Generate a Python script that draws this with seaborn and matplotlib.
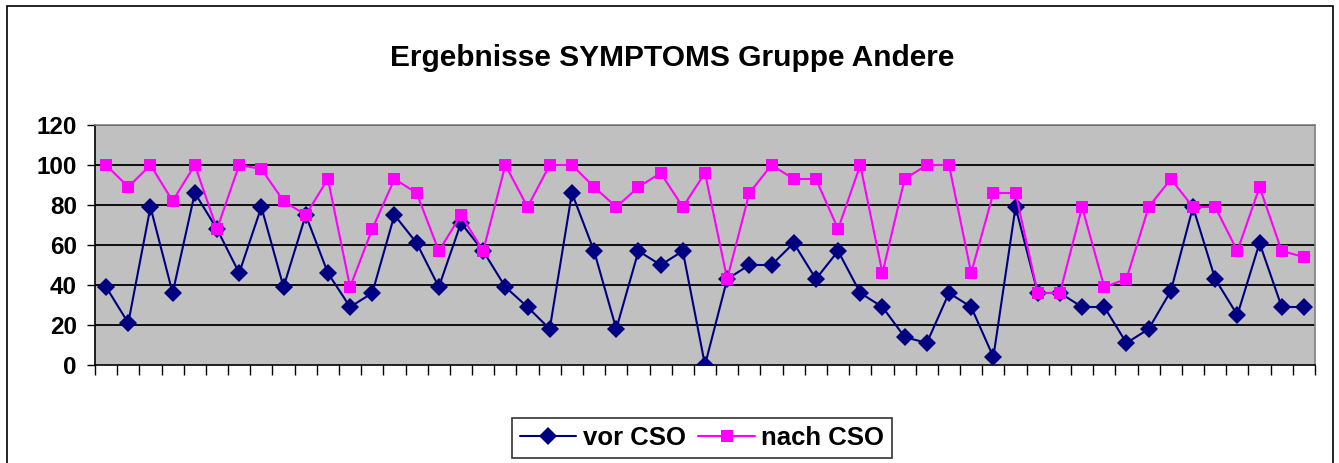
import numpy as np
import pandas as pd
import matplotlib
matplotlib.use("Agg")
import matplotlib.pyplot as plt
import seaborn as sns
from matplotlib.patches import Rectangle
from matplotlib.lines import Line2D

vor_cso = [39, 21, 79, 36, 86, 68, 46, 79, 39, 75, 46, 29, 36, 75, 61, 39, 71, 57, 39, 29,
           18, 86, 57, 18, 57, 50, 57, 0, 43, 50, 50, 61, 43, 57, 36, 29, 14, 11, 36, 29,
           4, 79, 36, 36, 29, 29, 11, 18, 37, 79, 43, 25, 61, 29, 29]
nach_cso = [100, 89, 100, 82, 100, 68, 100, 98, 82, 75, 93, 39, 68, 93, 86, 57, 75, 57, 100, 79,
            100, 100, 89, 79, 89, 96, 79, 96, 43, 86, 100, 93, 93, 68, 100, 46, 93, 100, 100, 46,
            86, 86, 36, 36, 79, 39, 43, 79, 93, 79, 79, 57, 89, 57, 54]
y_ticks = [0, 20, 40, 60, 80, 100, 120]
series_names = ["vor CSO", "nach CSO"]

n = len(vor_cso)
df = pd.DataFrame({
    "idx": list(range(n)) * 2,
    "value": vor_cso + nach_cso,
    "series": [series_names[0]] * n + [series_names[1]] * n,
})

sns.set_style("white")
plt.rcParams['font.family'] = ['Liberation Sans', 'DejaVu Sans']
plt.rcParams['text.color'] = 'black'
plt.rcParams['ytick.labelcolor'] = 'black'

fig = plt.figure(figsize=(13.39, 4.63), dpi=100)
W, H = 1339, 463
ax = fig.add_axes([95 / W, 1 - 365 / H, (1315 - 95) / W, (365 - 125) / H])
ax.set_facecolor("#C0C0C0")

palette = {"vor CSO": "#000080", "nach CSO": "#FF00FF"}
markers = {"vor CSO": "D", "nach CSO": "s"}
sns.lineplot(data=df, x="idx", y="value", hue="series", style="series",
             palette=palette, markers=markers, dashes=False, markersize=9,
             linewidth=1.5, markeredgewidth=0, ax=ax, legend=False, zorder=3)

ax.set_xlim(-0.5, n - 0.5)
ax.set_ylim(0, 120)
ax.set_yticks(y_ticks)
ax.set_yticklabels([str(v) for v in y_ticks], fontsize=17.5, fontweight="bold", color="black")
ax.set_xticks(np.arange(-0.5, n, 1))
ax.set_xticklabels([])
ax.tick_params(axis="x", direction="out", length=7, width=1, color="black", bottom=True)
ax.tick_params(axis="y", direction="out", length=6, width=1, color="black", left=True, pad=7)
for v in y_ticks[1:]:
    ax.axhline(v, color="black", linewidth=1.3, zorder=1)
ax.set_xlabel("")
ax.set_ylabel("")
for s in ["left", "bottom"]:
    ax.spines[s].set_color("black")
    ax.spines[s].set_linewidth(1.2)
for s in ["top", "right"]:
    ax.spines[s].set_color("#808080")
    ax.spines[s].set_linewidth(1.2)

fig.text(672 / W, 1 - 58 / H, "Ergebnisse SYMPTOMS Gruppe Andere",
         ha="center", va="center", fontsize=21.5, fontweight="bold", color="black")

# outer chart border
fig.patches.append(Rectangle((7 / W, -0.05), (1333 - 7) / W, 1 - 6 / H + 0.05,
                             transform=fig.transFigure, fill=False,
                             edgecolor="black", linewidth=1.2))

handles = [Line2D([], [], color=palette[s], marker=markers[s], markersize=9,
                  markeredgewidth=0, linewidth=1.5) for s in series_names]
leg = fig.legend(handles, series_names, loc="center", bbox_to_anchor=(702 / W, 1 - 438 / H),
                 ncol=2, frameon=True, fancybox=False, edgecolor="black",
                 prop={"size": 18.5, "weight": "bold"}, handlelength=2.2,
                 columnspacing=0.5, handletextpad=0.25, borderpad=0.3)
leg.get_frame().set_linewidth(1.2)
for t in leg.get_texts():
    t.set_color("black")

fig.savefig("out.png", dpi=100, facecolor="white")
